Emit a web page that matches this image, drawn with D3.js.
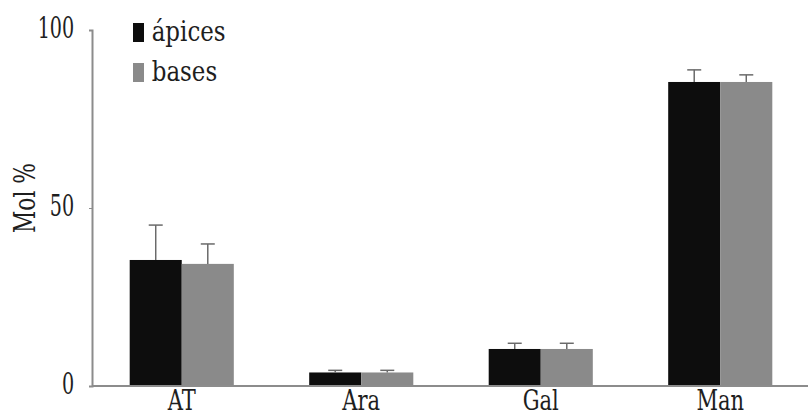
<!DOCTYPE html>
<html>
<head>
<meta charset="utf-8">
<script src="https://cdn.jsdelivr.net/npm/d3@7"></script>
<style>
  body { margin: 0; background: white; }
</style>
</head>
<body>
<script>
// data
const categories = ["AT", "Ara", "Gal", "Man"]
const series = ["ápices", "bases"]
const apices = [35.4, 3.8, 10.4, 85.4]
const apicesErr = [9.8, 0.6, 1.6, 3.4]
const bases = [34.3, 3.8, 10.4, 85.4]
const basesErr = [5.6, 0.6, 1.6, 2.0]
const yTicks = [0, 50, 100]

const [width, height] = [808, 418]
const margin = { top: 30, right: 0, bottom: 32, left: 92 }
const font = "'DejaVu Serif', serif"
const colors = {
    "apices": "#0d0d0d",
    "bases": "#8a8a8a",
    "axis": "#8c8c8c",
    "err": "#6a6a6a",
    "text": "#1e1e1e"
}

const rows = categories.map((c, i) => ({
    cat: c,
    vals: [
        { s: series[0], v: apices[i], e: apicesErr[i], color: colors.apices },
        { s: series[1], v: bases[i], e: basesErr[i], color: colors.bases }
    ]
}))

const svg = d3.select("body")
    .append("svg")
        .attr("width", width)
        .attr("height", height)
        .style("font-family", font)

const x = d3.scaleBand()
    .domain(categories)
    .range([margin.left, width - margin.right + 2])
    .paddingInner(0.42)
    .paddingOuter(0.21)

const xs = d3.scaleBand()
    .domain(series)
    .range([0, x.bandwidth()])

const y = d3.scaleLinear()
    .domain([0, 100])
    .range([height - margin.bottom, margin.top])

// bars
const group = svg.append("g")
    .selectAll()
        .data(rows)
        .join("g")
            .attr("transform", d => `translate(${x(d.cat)},0)`)

group.selectAll("rect")
    .data(d => d.vals)
    .join("rect")
        .attr("x", d => xs(d.s))
        .attr("y", d => y(d.v))
        .attr("width", xs.bandwidth())
        .attr("height", d => y(0) - y(d.v))
        .attr("fill", d => d.color)

// error bars (upper only)
const err = group.selectAll("g.err")
    .data(d => d.vals)
    .join("g")
        .attr("class", "err")
        .attr("stroke", colors.err)
        .attr("stroke-width", 1.5)

err.append("line")
    .attr("x1", d => xs(d.s) + xs.bandwidth() / 2)
    .attr("x2", d => xs(d.s) + xs.bandwidth() / 2)
    .attr("y1", d => y(d.v))
    .attr("y2", d => y(d.v + d.e))

err.append("line")
    .attr("x1", d => xs(d.s) + xs.bandwidth() / 2 - 7)
    .attr("x2", d => xs(d.s) + xs.bandwidth() / 2 + 7)
    .attr("y1", d => y(d.v + d.e))
    .attr("y2", d => y(d.v + d.e))

// axes
const yAxis = svg.append("g")
    .attr("transform", `translate(${margin.left},0)`)
    .call(d3.axisLeft(y).tickValues(yTicks).tickSize(3).tickPadding(24))
    .attr("font-family", null)
yAxis.select(".domain").attr("stroke", colors.axis).attr("stroke-width", 2)
yAxis.selectAll(".tick line").attr("stroke", colors.axis)
yAxis.selectAll(".tick text")
    .attr("font-size", 29)
    .attr("dy", "0.26em")
    .attr("transform", "scale(0.66,1)")

const xAxis = svg.append("g")
    .attr("transform", `translate(0,${y(0)})`)
    .call(d3.axisBottom(x).tickSize(0).tickPadding(0))
    .attr("font-family", null)
xAxis.select(".domain")
    .attr("stroke", colors.axis)
    .attr("stroke-width", 2)
    .attr("d", `M${margin.left},0H${width}`)
xAxis.selectAll(".tick text")
    .attr("font-size", 27)
    .attr("y", 24)
    .attr("dy", null)
    .attr("transform", "scale(0.78,1)")

svg.selectAll(".tick text").attr("fill", colors.text)

// y title
svg.append("text")
    .attr("transform", `translate(35,${y(50) - 10}) rotate(-90) scale(0.75,1)`)
    .attr("text-anchor", "middle")
    .attr("font-size", 29)
    .attr("fill", colors.text)
    .text("Mol %")

// legend
const legend = svg.append("g")
    .selectAll()
        .data(series)
        .join("g")
            .attr("transform", (d, i) => `translate(133,${23 + i * 40})`)

legend.append("rect")
    .attr("width", 11)
    .attr("height", 19)
    .attr("fill", (d, i) => i === 0 ? colors.apices : colors.bases)

legend.append("text")
    .attr("x", 22)
    .attr("y", 18)
    .attr("font-size", 27)
    .attr("transform", "scale(0.85,1)")
    .attr("fill", colors.text)
    .text(d => d)
</script>
</body>
</html>
